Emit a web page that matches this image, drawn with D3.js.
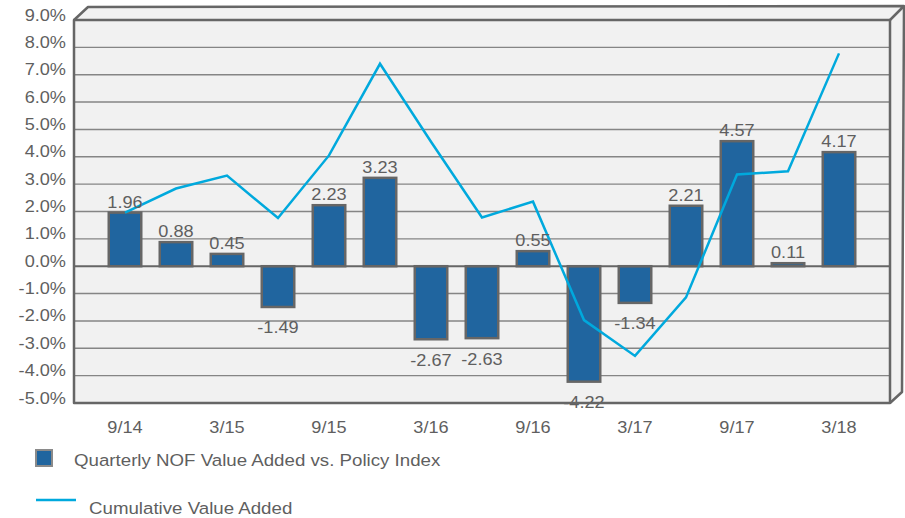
<!DOCTYPE html>
<html>
<head>
<meta charset="utf-8">
<script src="https://cdn.jsdelivr.net/npm/d3@7"></script>
<style>
  html, body { margin: 0; padding: 0; background: #ffffff; }
  svg { display: block; font-family: "Liberation Sans", Arial, Helvetica, sans-serif; }
</style>
</head>
<body>
<svg id="chart" width="905" height="518"></svg>
<script>
// Quarter ends
const quarters = ["9/14", "12/14", "3/15", "6/15", "9/15", "12/15", "3/16", "6/16",
                  "9/16", "12/16", "3/17", "6/17", "9/17", "12/17", "3/18"];
// Quarterly NOF value added vs. policy index (%)
const quarterlyValueAdded = [1.96, 0.88, 0.45, -1.49, 2.23, 3.23, -2.67, -2.63,
                             0.55, -4.22, -1.34, 2.21, 4.57, 0.11, 4.17];
// Cumulative value added (%)
const cumulativeValueAdded = [1.96, 2.84, 3.31, 1.76, 4.05, 7.40, 4.55, 1.78,
                              2.36, -1.97, -3.28, -1.14, 3.35, 3.47, 7.78];
// Axis ticks
const yTicks = [9, 8, 7, 6, 5, 4, 3, 2, 1, 0, -1, -2, -3, -4, -5];
const xTickLabels = ["9/14", "3/15", "9/15", "3/16", "9/16", "3/17", "9/17", "3/18"];

const legendLabels = ["Quarterly NOF Value Added vs. Policy Index", "Cumulative Value Added"];

const svg = d3.select("#chart");

const plotLeft = 74, plotRight = 890, plotTop = 20, plotBottom = 403;
const depthX = 14, depthY = 14;

const x = d3.scalePoint().domain(quarters).range([plotLeft, plotRight]).padding(1);
const y = d3.scaleLinear().domain([-5, 9]).range([plotBottom, plotTop]);

const textColor = "#5f5f5f";
const frameColor = "#666666";
const barFill = "#20659f";
const lineColor = "#00a9dd";
const fontSize = 16.5;
const textStretch = 1.1;

// Places a text node at (px, py) with the slightly widened lettering
function placeText(sel, px, py) {
  sel.attr("transform", function (d, i) {
    const tx = typeof px === "function" ? px(d, i) : px;
    const ty = typeof py === "function" ? py(d, i) : py;
    return `translate(${tx},${ty}) scale(${textStretch},1)`;
  });
  return sel;
}

const topFace = [[plotLeft, plotTop], [plotLeft + depthX, plotTop - depthY + 1],
                 [plotRight + depthX, plotTop - depthY], [plotRight, plotTop]];
const sideFace = [[plotRight, plotTop], [plotRight + depthX, plotTop - depthY],
                  [plotRight + depthX - 2, plotBottom - 11], [plotRight, plotBottom]];

// Plot walls: top face, right face, front face
svg.append("polygon").attr("points", topFace.join(" ")).attr("fill", "#f1f1f1");
svg.append("polygon").attr("points", sideFace.join(" ")).attr("fill", "#f1f1f1");
svg.append("rect")
  .attr("x", plotLeft).attr("y", plotTop)
  .attr("width", plotRight - plotLeft).attr("height", plotBottom - plotTop)
  .attr("fill", "#f1f1f1");

// Horizontal gridlines
svg.append("g")
  .selectAll("line")
  .data(yTicks.filter(t => t !== 0 && t !== 9 && t !== -5))
  .join("line")
  .attr("x1", plotLeft).attr("x2", plotRight)
  .attr("y1", d => y(d)).attr("y2", d => y(d))
  .attr("stroke", "#858585")
  .attr("stroke-width", 1.4);

// Quarterly bars
const barWidth = 32.5;
const barData = quarters.map((q, i) => ({ q, v: quarterlyValueAdded[i] }));
svg.append("g")
  .selectAll("rect")
  .data(barData)
  .join("rect")
  .attr("x", d => x(d.q) - barWidth / 2)
  .attr("y", d => y(Math.max(0, d.v)))
  .attr("width", barWidth)
  .attr("height", d => Math.abs(y(d.v) - y(0)))
  .attr("fill", barFill)
  .attr("stroke", frameColor)
  .attr("stroke-width", 2.5);

// Zero line
svg.append("line")
  .attr("x1", plotLeft).attr("x2", plotRight)
  .attr("y1", y(0)).attr("y2", y(0))
  .attr("stroke", frameColor)
  .attr("stroke-width", 2);

// Cumulative line
const line = d3.line()
  .x((d, i) => x(quarters[i]))
  .y(d => y(d));
svg.append("path")
  .datum(cumulativeValueAdded)
  .attr("d", line)
  .attr("fill", "none")
  .attr("stroke", lineColor)
  .attr("stroke-width", 2.5);

// Bar value labels
svg.append("g")
  .selectAll("text")
  .data(barData)
  .join("text")
  .call(placeText, d => x(d.q), d => d.v >= 0 ? y(d.v) - 5 : y(d.v) + 26.5)
  .attr("text-anchor", "middle")
  .attr("font-size", fontSize)
  .attr("fill", textColor)
  .text(d => d.v.toFixed(2));

// Frame outline
const frame = svg.append("g")
  .attr("fill", "none")
  .attr("stroke", frameColor)
  .attr("stroke-width", 2.5)
  .attr("stroke-linejoin", "round");
frame.append("rect")
  .attr("x", plotLeft).attr("y", plotTop)
  .attr("width", plotRight - plotLeft).attr("height", plotBottom - plotTop);
frame.append("polyline").attr("points", topFace.join(" "));
frame.append("polyline").attr("points", sideFace.slice(1).join(" "));

// Y axis labels
svg.append("g")
  .selectAll("text")
  .data(yTicks)
  .join("text")
  .call(placeText, 66, d => y(d) + 0.5)
  .attr("text-anchor", "end")
  .attr("font-size", fontSize)
  .attr("fill", textColor)
  .text(d => d.toFixed(1) + "%");

// X axis labels
svg.append("g")
  .selectAll("text")
  .data(xTickLabels)
  .join("text")
  .call(placeText, d => x(d), 433)
  .attr("text-anchor", "middle")
  .attr("font-size", fontSize)
  .attr("fill", textColor)
  .text(d => d);

// Legend
const legend = svg.append("g");
legend.append("rect")
  .attr("x", 36).attr("y", 450)
  .attr("width", 16).attr("height", 16)
  .attr("fill", barFill)
  .attr("stroke", "#8a8a8a")
  .attr("stroke-width", 2);
legend.append("text")
  .call(placeText, 74, 466)
  .attr("font-size", 17)
  .attr("fill", textColor)
  .text(legendLabels[0]);
legend.append("line")
  .attr("x1", 36).attr("x2", 76)
  .attr("y1", 500).attr("y2", 500)
  .attr("stroke", lineColor)
  .attr("stroke-width", 2.5);
legend.append("text")
  .call(placeText, 89, 514)
  .attr("font-size", 17)
  .attr("fill", textColor)
  .text(legendLabels[1]);
</script>
</body>
</html>
